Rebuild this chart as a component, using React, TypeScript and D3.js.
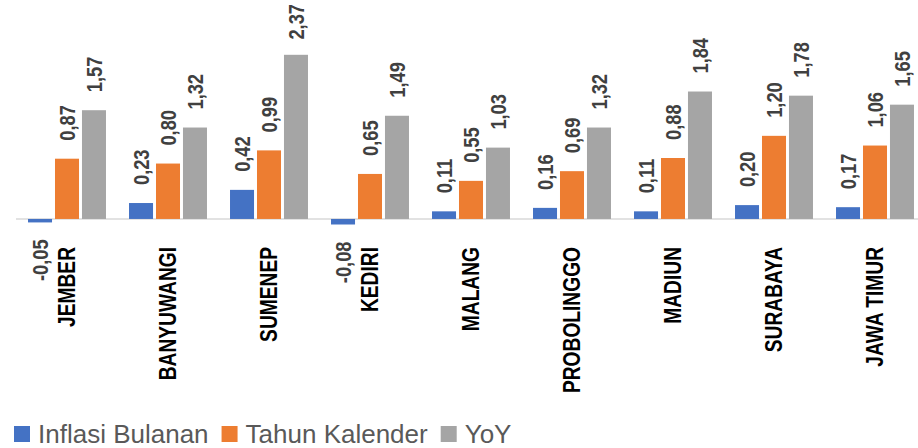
import React, { useRef, useEffect } from 'react'
import { select, scaleBand, scaleLinear } from 'd3'

const categories = ['JEMBER', 'BANYUWANGI', 'SUMENEP', 'KEDIRI', 'MALANG', 'PROBOLINGGO', 'MADIUN', 'SURABAYA', 'JAWA TIMUR']
const seriesNames = ['Inflasi Bulanan', 'Tahun Kalender', 'YoY']
const inflasiBulanan = [-0.05, 0.23, 0.42, -0.08, 0.11, 0.16, 0.11, 0.2, 0.17]
const tahunKalender = [0.87, 0.8, 0.99, 0.65, 0.55, 0.69, 0.88, 1.2, 1.06]
const yoy = [1.57, 1.32, 2.37, 1.49, 1.03, 1.32, 1.84, 1.78, 1.65]
const colors = ['#4472C4', '#ED7D31', '#A5A5A5']

const W = 918
const H = 448
const FONT = 'Liberation Sans, Arial, sans-serif'
const LABEL_SCALE = 0.85

const fmt = (v: number) => v.toFixed(2).replace('.', ',')

const App = () => {
    const svgRef = useRef<SVGSVGElement>(null)

    useEffect(() => {
        const svg = select(svgRef.current)
        svg.selectAll('*').remove()

        const series = [inflasiBulanan, tahunKalender, yoy]

        const x0 = scaleBand<string>()
            .domain(categories)
            .range([16.5, 925.5])
            .paddingInner(0.228)
            .paddingOuter(0.114)

        const x1 = scaleBand<number>()
            .domain([0, 1, 2])
            .range([0, x0.bandwidth()])
            .paddingInner(0.11)

        const y = scaleLinear()
            .domain([-0.08, 2.37])
            .range([224.5, 54.8])

        const plot = svg.append('g')

        // baseline
        plot.append('line')
            .attr('x1', 16)
            .attr('x2', W)
            .attr('y1', y(0))
            .attr('y2', y(0))
            .attr('stroke', '#D9D9D9')
            .attr('stroke-width', 1.5)

        series.forEach((vals, si) => {
            const g = plot.append('g')
            g.selectAll('rect')
                .data(vals)
                .join('rect')
                .attr('x', (d, i) => x0(categories[i])! + x1(si)!)
                .attr('y', d => y(Math.max(0, d)))
                .attr('width', x1.bandwidth())
                .attr('height', d => Math.abs(y(d) - y(0)))
                .attr('fill', colors[si])

            // narrow bold labels (Arial Narrow look), kept inside the top edge
            g.selectAll('text')
                .data(vals)
                .join('text')
                .attr('text-anchor', d => (d >= 0 ? 'start' : 'end'))
                .attr('dominant-baseline', 'central')
                .attr('font-family', FONT)
                .attr('font-weight', 'bold')
                .attr('font-size', 21.5)
                .attr('fill', '#404040')
                .text(d => fmt(d))
                .attr('transform', function (d, i) {
                    const cx = x0(categories[i])! + x1(si)! + x1.bandwidth() / 2
                    let cy = d >= 0 ? y(d) - 18 : y(d) + 17
                    if (d >= 0) {
                        const len = (this as SVGTextElement).getComputedTextLength() * LABEL_SCALE
                        if (cy - len < 4) cy = 4 + len
                    }
                    return `translate(${cx},${cy}) rotate(-90) scale(${LABEL_SCALE},1)`
                })
        })

        // category labels
        plot.append('g')
            .selectAll('text')
            .data(categories)
            .join('text')
            .attr('transform', d => `translate(${x0(d)! + x0.bandwidth() / 2},247) rotate(-90) scale(0.8,1)`)
            .attr('text-anchor', 'end')
            .attr('dominant-baseline', 'central')
            .attr('font-family', FONT)
            .attr('font-weight', 'bold')
            .attr('font-size', 24)
            .attr('fill', '#000')
            .text(d => d)

        // legend
        const legend = svg.append('g').attr('transform', 'translate(14,434)')
        let lx = 0
        seriesNames.forEach((name, i) => {
            legend.append('rect')
                .attr('x', lx)
                .attr('y', -8)
                .attr('width', 16)
                .attr('height', 16)
                .attr('fill', colors[i])
            const t = legend.append('text')
                .attr('x', lx + 24)
                .attr('y', 0)
                .attr('dominant-baseline', 'central')
                .attr('font-family', FONT)
                .attr('font-size', 26)
                .attr('fill', '#595959')
                .text(name)
            const len = (t.node() as SVGTextElement).getComputedTextLength()
            lx += 24 + len + 13
        })
    }, [])

    return (
        <svg
            ref={svgRef}
            width={W}
            height={H}
            style={{ position: 'absolute', left: 0, top: 0, background: '#fff' }}
        />
    )
}

export default App
